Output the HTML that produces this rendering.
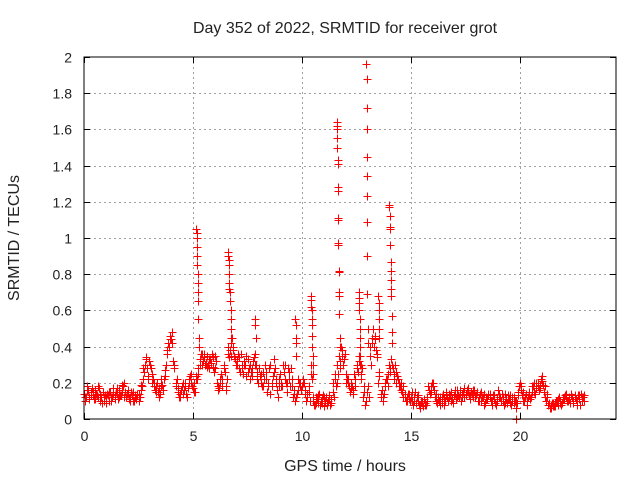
<!DOCTYPE html>
<html><head><meta charset="utf-8"><style>
body{margin:0;background:#fff}
svg text{font-family:"Liberation Sans",sans-serif;font-size:14px;fill:#222}
svg text.big{font-size:16px}
</style></head><body>
<svg id="chart" width="640" height="480" xmlns="http://www.w3.org/2000/svg">
<text class="big" x="345" y="33" text-anchor="middle">Day 352 of 2022, SRMTID for receiver grot</text>
<text class="big" x="345" y="471" text-anchor="middle">GPS time / hours</text>
<text class="big" transform="translate(19,238) rotate(-90)" text-anchor="middle">SRMTID / TECUs</text>
<g id="grid"></g>
<g id="ticks"></g>
<g id="marks" shape-rendering="crispEdges"></g>
<rect x="84" y="57" width="532" height="362" fill="none" stroke="#000" stroke-width="1" shape-rendering="crispEdges"/>
</svg>
<script>
const xTicks=[0,5,10,15,20];
const yTicks=[0,0.2,0.4,0.6,0.8,1,1.2,1.4,1.6,1.8,2];
const yTickLabels=["0","0.2","0.4","0.6","0.8","1","1.2","1.4","1.6","1.8","2"];
const baseValues=[.14,.12,.16,.13,.15,.11,.13,.17,.12,.10,
.09,.13,.15,.12,.11,.14,.16,.13,.18,.15,
.14,.12,.13,.10,.11,.14,.16,.22,.30,.28,
.32,.25,.20,.18,.15,.14,.19,.24,.36,.40,
.44,.32,.20,.15,.12,.18,.16,.14,.20,.25,
.17,.15,.22,.30,.36,.34,.31,.30,.33,.29,
.35,.20,.17,.25,.30,.18,.40,.38,.45,.35,
.32,.28,.36,.25,.30,.33,.22,.28,.34,.30,
.20,.25,.18,.30,.15,.28,.18,.33,.20,.12,
.25,.18,.30,.15,.22,.28,.12,.10,.16,.20,
.18,.20,.10,.15,.30,.12,.08,.11,.14,.09,
.07,.12,.10,.08,.15,.25,.20,.35,.40,.30,
.25,.20,.15,.18,.25,.30,.35,.22,.12,.08,
.15,.35,.45,.40,.38,.20,.12,.10,.18,.22,
.30,.33,.25,.20,.22,.18,.15,.12,.10,.14,
.12,.08,.15,.10,.06,.09,.11,.08,.18,.15,
.20,.12,.09,.10,.12,.08,.15,.10,.13,.11,
.14,.16,.12,.10,.15,.13,.17,.11,.14,.16,
.13,.10,.15,.12,.09,.11,.14,.10,.13,.08,
.16,.12,.10,.14,.09,.11,.08,.12,.06,.15,
.20,.13,.10,.08,.15,.12,.18,.14,.20,.17,
.24,.15,.10,.08,.06,.09,.07,.10,.12,.08,
.11,.14,.10,.09,.12,.13,.08,.11,.14,.12];
const baseTimes=baseValues.map((_,i)=>i*0.1);
const spreadValues=[.10,.16,.12,.17,.11,.14,.18,.10,.15,.13,
.14,.10,.12,.17,.15,.11,.13,.19,.12,.14,
.11,.15,.10,.13,.14,.12,.18,.26,.34,.22,
.28,.22,.16,.20,.12,.18,.22,.30,.42,.44,
.48,.28,.22,.12,.16,.14,.20,.17,.24,.18,
.20,.22,.25,.36,.32,.30,.35,.28,.36,.26,
.32,.16,.22,.18,.26,.22,.34,.42,.38,.30,
.36,.26,.30,.32,.24,.28,.26,.32,.30,.26,
.24,.18,.22,.26,.20,.14,.24,.28,.16,.22,
.18,.26,.20,.28,.18,.22,.16,.14,.20,.16,
.22,.16,.14,.10,.22,.08,.12,.09,.10,.13,
.10,.09,.13,.11,.12,.18,.25,.28,.35,.36,
.22,.18,.20,.14,.18,.26,.30,.28,.18,.10,
.12,.30,.50,.44,.34,.26,.16,.14,.22,.18,
.26,.28,.30,.24,.18,.20,.12,.10,.14,.10,
.15,.10,.12,.08,.10,.07,.09,.12,.14,.20,
.16,.10,.12,.08,.14,.10,.12,.14,.10,.13,
.11,.13,.16,.14,.12,.16,.13,.15,.12,.13,
.10,.14,.12,.08,.12,.14,.10,.13,.09,.11,
.12,.14,.08,.11,.13,.09,.12,.10,.09,.18,
.16,.10,.14,.12,.11,.18,.15,.20,.16,.22,
.19,.12,.14,.06,.09,.07,.10,.08,.09,.11,
.13,.10,.12,.14,.09,.11,.13,.08,.12,.10];
const fillValues=[.12,.18,.11,.15,.13,.16,.12,.14,.09,.12,
.12,.15,.10,.14,.13,.17,.12,.15,.20,.12,
.16,.10,.15,.12,.13,.10,.19,.28,.33,.24,
.30,.20,.18,.15,.17,.22,.16,.27,.38,.46,
.42,.30,.18,.17,.14,.20,.18,.12,.22,.20,
.15,.24,.28,.33,.30,.36,.29,.33,.31,.34,
.28,.18,.20,.22,.28,.16,.36,.35,.40,.33,
.30,.34,.28,.30,.35,.26,.30,.24,.36,.22,
.28,.20,.26,.22,.18,.30,.20,.26,.22,.18,
.20,.30,.22,.20,.26,.18,.14,.12,.22,.18,
.20,.14,.12,.18,.25,.10,.09,.13,.08,.11,
.12,.08,.11,.09,.20,.22,.30,.32,.38,.33,
.20,.22,.17,.16,.22,.28,.32,.25,.15,.10,
.18,.40,.42,.46,.36,.24,.14,.12,.20,.25,
.28,.30,.22,.26,.20,.16,.18,.14,.12,.11,
.10,.12,.09,.13,.08,.10,.08,.10,.16,.18,
.18,.14,.11,.12,.09,.11,.13,.12,.15,.09,
.16,.12,.14,.12,.17,.14,.15,.13,.16,.12,
.15,.12,.10,.14,.11,.13,.12,.08,.11,.10,
.14,.10,.12,.09,.11,.13,.10,.09,.10,.13,
.18,.15,.12,.10,.13,.15,.20,.17,.18,.19,
.21,.18,.12,.09,.08,.07,.09,.11,.10,.09,
.12,.12,.11,.13,.10,.12,.10,.13,.10,.13];
const spikeTimes=[5.15,5.16,5.17,5.18,5.19,5.2,5.21,5.22,5.23,5.24,5.25,5.26,5.27,
6.6,6.62,6.63,6.64,6.65,6.66,6.67,6.68,6.7,6.72,6.73,6.74,6.75,
7.85,7.86,7.87,9.7,9.71,9.72,9.73,9.74,
10.4,10.41,10.42,10.44,10.45,10.46,10.47,10.48,10.49,10.5,10.5,
11.6,11.6,11.61,11.62,11.62,11.63,11.64,11.64,11.65,11.65,11.66,11.66,11.67,11.68,11.68,11.69,11.7,11.7,11.72,11.74,
12.6,12.61,12.62,12.63,12.64,12.65,12.66,12.67,12.68,12.69,12.7,
12.95,12.96,12.96,12.97,12.97,12.98,12.98,12.99,13.0,13.0,13.02,13.04,
13.5,13.51,13.52,13.53,13.54,13.55,
14.0,14.0,14.02,14.03,14.04,14.05,14.06,14.07,14.08,14.09,14.1,14.11,14.12,14.14,
19.8];
const spikeValues=[1.05,1.03,1.0,0.95,0.9,0.85,0.8,0.75,0.7,0.65,0.55,0.45,0.4,
0.92,0.9,0.88,0.85,0.8,0.75,0.72,0.7,0.65,0.6,0.55,0.5,0.45,
0.55,0.52,0.45,0.55,0.52,0.45,0.42,0.35,
0.68,0.66,0.62,0.6,0.55,0.52,0.46,0.4,0.35,0.3,0.25,
1.64,1.62,1.6,1.55,1.5,1.43,1.41,1.28,1.26,1.11,1.1,0.97,0.96,0.82,0.81,0.7,0.68,0.58,0.45,0.4,
0.7,0.67,0.64,0.6,0.55,0.5,0.45,0.4,0.35,0.3,0.25,
1.96,1.88,1.72,1.6,1.45,1.34,1.23,1.09,0.9,0.69,0.5,0.42,
0.68,0.64,0.6,0.55,0.5,0.45,
1.18,1.17,1.12,1.06,1.05,0.96,0.87,0.82,0.77,0.72,0.68,0.57,0.48,0.42,
0.0];
const X0=84,X1=616,XMAX=24.4,Y0=419,Y1=57,YMAX=2;
const sx=t=>X0+(X1-X0)*t/XMAX;
const sy=v=>Y0-(Y0-Y1)*v/YMAX;
const NS="http://www.w3.org/2000/svg";
const grid=document.getElementById('grid'),ticks=document.getElementById('ticks'),marks=document.getElementById('marks');
function mk(tag,attrs,parent){const e=document.createElementNS(NS,tag);for(const k in attrs)e.setAttribute(k,attrs[k]);parent.appendChild(e);return e;}
xTicks.forEach(t=>{const x=Math.round(sx(t))+0.5;
if(t>0){const g=mk('line',{x1:x,x2:x,y1:Y1,y2:Y0,stroke:'#a0a0a0','stroke-dasharray':'2,3'},grid);

}
mk('line',{x1:x,x2:x,y1:Y0,y2:Y0-6,stroke:'#000'},ticks);
mk('line',{x1:x,x2:x,y1:Y1,y2:Y1+6,stroke:'#000'},ticks);
const l=mk('text',{x:x,y:Y0+22,'text-anchor':'middle'},ticks);l.textContent=t;

});
yTicks.forEach((v,i)=>{const y=Math.round(sy(v))+0.5;
if(v>0&&v<2){const g=mk('line',{x1:X0,x2:X1,y1:y,y2:y,stroke:'#a0a0a0','stroke-dasharray':'2,3'},grid);

}
mk('line',{x1:X0,x2:X0+6,y1:y,y2:y,stroke:'#000'},ticks);
mk('line',{x1:X1,x2:X1-6,y1:y,y2:y,stroke:'#000'},ticks);
const l=mk('text',{x:X0-12,y:y+5,'text-anchor':'end'},ticks);l.textContent=yTickLabels[i];

});
function plus(t,v){const x=Math.round(sx(t))+0.5,y=Math.round(sy(v))+0.5;
const p=mk('path',{d:`M${x-4} ${y}H${x+4}M${x} ${y-4}V${y+4}`,stroke:'#ff0000','stroke-width':1,fill:'none'},marks);

}
baseValues.forEach((v,i)=>plus(baseTimes[i],v));
spreadValues.forEach((v,i)=>plus(baseTimes[i]+0.05,v));
fillValues.forEach((v,i)=>plus(baseTimes[i]+0.025,v));
spikeValues.forEach((v,i)=>plus(spikeTimes[i],v));
</script>
</body></html>
